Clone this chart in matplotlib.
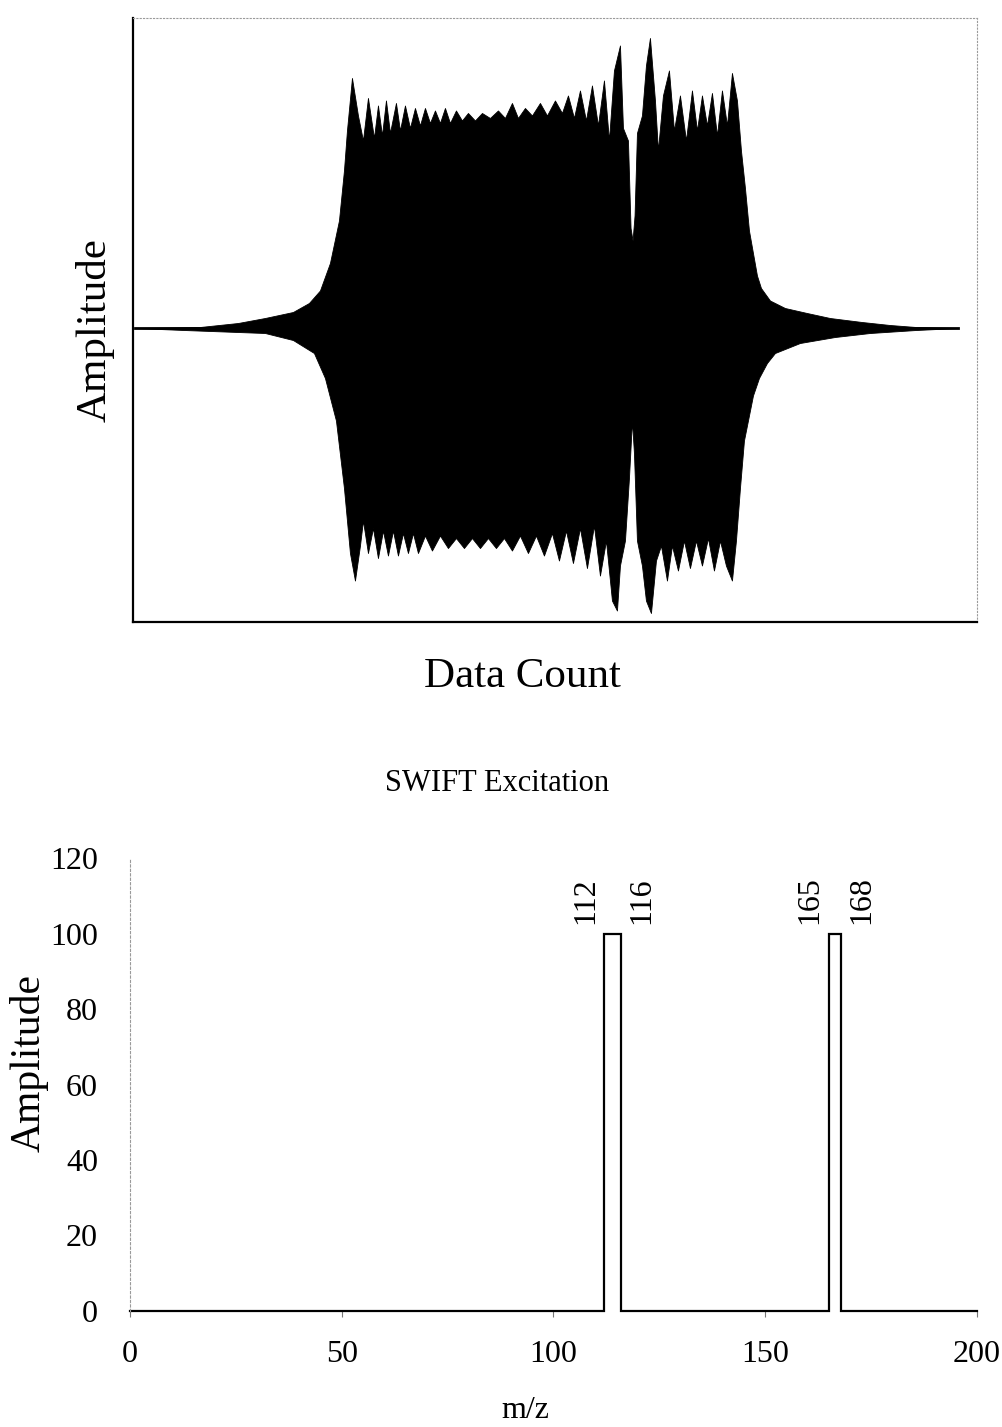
import matplotlib
matplotlib.use("Agg")
import matplotlib.pyplot as plt
import numpy as np

plt.rcParams["font.family"] = ["Liberation Serif", "DejaVu Serif"]

# --- top panel: SWIFT time-domain waveform, envelope ---
upper_count = [0, 325, 515, 650, 790, 870, 925, 975, 1020, 1045, 1060, 1085, 1115, 1140,
               1165, 1195, 1215, 1235, 1255, 1275, 1305, 1325, 1350, 1375, 1400, 1425, 1450,
               1475, 1500, 1525, 1550, 1575, 1605, 1635, 1665, 1700, 1735, 1775, 1815, 1850,
               1885, 1915, 1950, 1985, 2025, 2060, 2100, 2135, 2165, 2195, 2225, 2255, 2285,
               2315, 2345, 2370, 2395, 2425, 2440, 2465, 2478, 2488, 2498, 2510, 2535, 2555,
               2575, 2600, 2615, 2640, 2670, 2695, 2725, 2755, 2785, 2810, 2835, 2860, 2885,
               2910, 2935, 2960, 2985, 3010, 3030, 3050, 3070, 3090, 3110, 3130, 3175, 3250,
               3360, 3475, 3635, 3775, 3905, 4115]
upper_amp = [0, 0.4, 2, 4, 6.4, 10, 15, 26, 43, 63, 79, 100, 85, 75,
             92, 76, 89, 77, 91, 78, 90, 79, 89, 80, 88, 81, 88,
             82, 87, 82, 88, 82, 87, 83, 86, 83, 86, 84, 87, 84,
             90, 84, 88, 85, 90, 85, 91, 86, 93, 84, 95, 83, 97,
             81, 99, 75, 103, 113, 80, 75, 40, 35, 45, 78, 85, 105,
             116, 91, 71, 93, 103, 79, 93, 75, 95, 79, 93, 81, 94,
             77, 95, 81, 102, 91, 71, 56, 39, 30, 21, 16, 11, 8,
             6, 4, 2.4, 1.2, 0.4, 0]

lower_count = [0, 245, 650, 790, 895, 950, 1005, 1045, 1075, 1100, 1125, 1140, 1165, 1190,
               1215, 1240, 1265, 1290, 1315, 1340, 1365, 1390, 1415, 1450, 1485, 1525, 1565,
               1605, 1645, 1685, 1725, 1765, 1805, 1845, 1885, 1925, 1965, 2005, 2045, 2085,
               2120, 2155, 2190, 2225, 2260, 2295, 2325, 2355, 2385, 2410, 2425, 2450, 2470,
               2485, 2495, 2510, 2535, 2555, 2580, 2605, 2630, 2660, 2685, 2715, 2745, 2775,
               2805, 2835, 2865, 2895, 2925, 2955, 2985, 3005, 3025, 3045, 3065, 3090, 3120,
               3160, 3200, 3325, 3500, 3675, 3905, 4115]
lower_amp = [0, -0.8, -2, -4.8, -10, -20, -37, -64, -90, -101, -87, -77, -90, -80,
             -92, -81, -91, -81, -91, -82, -90, -82, -90, -83, -89, -83, -88,
             -84, -88, -84, -88, -84, -88, -84, -89, -83, -90, -83, -91, -82,
             -93, -81, -94, -80, -96, -79, -99, -85, -109, -113, -95, -85, -60,
             -37, -50, -85, -95, -109, -114, -93, -87, -101, -87, -97, -85, -96,
             -85, -95, -84, -97, -85, -95, -101, -85, -64, -45, -37, -27, -20,
             -14, -10, -6, -3.6, -2, -0.8, 0]

# --- bottom panel: SWIFT excitation windows ---
window_lo = [112, 165]
window_hi = [116, 168]
window_amp = 100
mz_range = [0, 200]

fig = plt.figure(figsize=(10.02, 14.27), dpi=100)

ax1 = fig.add_axes([0.1327, 0.5641, 0.8423, 0.4233])
ax1.fill_between(upper_count, upper_amp, 0, color="black", lw=0.6, edgecolor="black")
ax1.fill_between(lower_count, lower_amp, 0, color="black", lw=0.6, edgecolor="black")
ax1.plot([upper_count[0], upper_count[-1]], [0, 0], color="black", lw=2)
ax1.set_xlim(-10, 4210)
ax1.set_ylim(-117.6, 124)
ax1.set_xticks([])
ax1.set_yticks([])
for side in ["left", "bottom"]:
    ax1.spines[side].set_linewidth(1.6)
for side in ["top", "right"]:
    ax1.spines[side].set_color("#9a9a9a")
    ax1.spines[side].set_linestyle((0, (1, 2)))
    ax1.spines[side].set_linewidth(0.8)

fig.text(0.095, 0.769, "Amplitude", rotation=90, fontsize=31, ha="center", va="center")
fig.text(0.521, 0.5256, "Data Count", fontsize=31, ha="center", va="center")

# step outline of the excitation windows
step_x = [mz_range[0]]
step_y = [0]
for lo, hi in zip(window_lo, window_hi):
    step_x += [lo, lo, hi, hi]
    step_y += [0, window_amp, window_amp, 0]
step_x.append(mz_range[1])
step_y.append(0)

ax2 = fig.add_axes([0.1297, 0.0813, 0.8453, 0.3174])
ax2.plot(step_x, step_y, color="black", lw=1.6, solid_joinstyle="miter", clip_on=False)
ax2.set_xlim(mz_range)
ax2.set_ylim(0, 120)
ax2.set_xticks([0, 50, 100, 150, 200])
ax2.set_yticks(range(0, 121, 20))
ax2.tick_params(axis="x", length=4, width=0.8, color="#777777", pad=17, labelsize=23)
ax2.tick_params(axis="y", length=0, pad=23, labelsize=23)
ax2.spines["top"].set_visible(False)
ax2.spines["right"].set_visible(False)
ax2.spines["bottom"].set_visible(False)
ax2.spines["left"].set_color("#9a9a9a")
ax2.spines["left"].set_linestyle((0, (2, 2)))
ax2.spines["left"].set_linewidth(0.8)

for lo, hi in zip(window_lo, window_hi):
    ax2.annotate(str(lo), (lo, window_amp), xytext=(-3, 7), textcoords="offset points",
                 rotation=90, ha="right", va="bottom", fontsize=23)
    ax2.annotate(str(hi), (hi, window_amp), xytext=(4, 7), textcoords="offset points",
                 rotation=90, ha="left", va="bottom", fontsize=23)

fig.text(0.496, 0.4506, "SWIFT Excitation", fontsize=22, ha="center", va="center")
fig.text(0.029, 0.255, "Amplitude", rotation=90, fontsize=30, ha="center", va="center")
fig.text(0.524, 0.0119, "m/z", fontsize=23, ha="center", va="center")

fig.savefig("out.png", dpi=100)
